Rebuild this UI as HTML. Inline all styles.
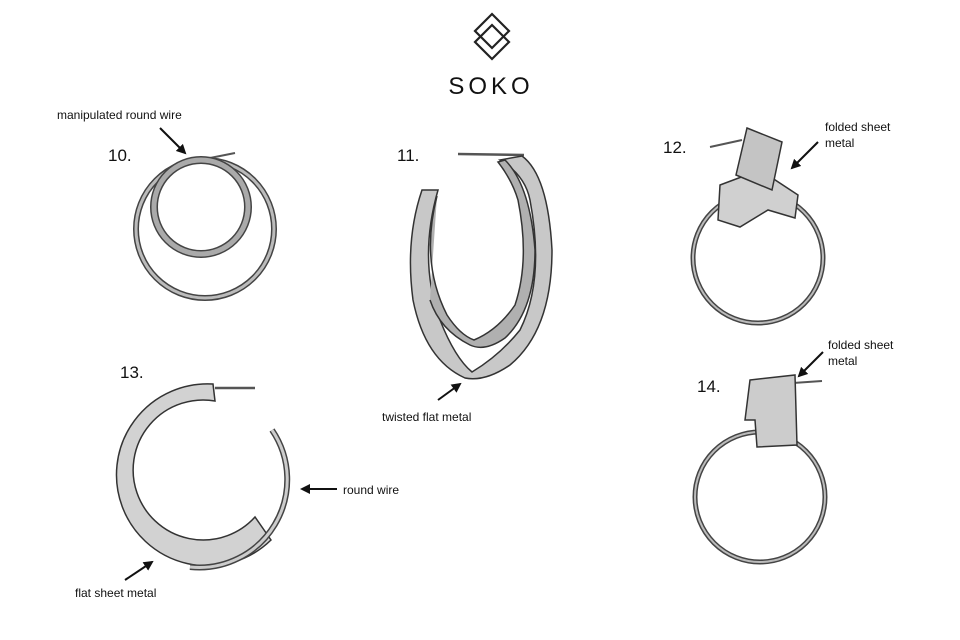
<!DOCTYPE html>
<html><head><meta charset="utf-8"><style>
html,body{margin:0;padding:0;background:#fff;}
svg{display:block;}
text{font-family:"Liberation Sans",sans-serif;fill:#111;}
</style></head><body>
<svg width="960" height="640" viewBox="0 0 960 640" xmlns="http://www.w3.org/2000/svg">
<defs>
<marker id="ah" markerWidth="10" markerHeight="10" refX="8" refY="5" orient="auto" markerUnits="userSpaceOnUse">
<path d="M0,0 L10,5 L0,10 z" fill="#111"/></marker>
</defs>
<!-- logo -->
<g fill="none" stroke="#222" stroke-width="2.2">
<path d="M492,14 L509,31 L492,48 L475,31 z"/>
<path d="M492,25 L509,42 L492,59 L475,42 z"/>
</g>
<text x="491" y="94" font-size="24" text-anchor="middle" letter-spacing="4">SOKO</text>

<!-- 10 -->
<text x="57" y="119" font-size="12">manipulated round wire</text>
<text x="108" y="161" font-size="17">10.</text>
<line x1="160" y1="128" x2="185" y2="153" stroke="#111" stroke-width="2" marker-end="url(#ah)"/>
<line x1="210" y1="158" x2="235" y2="153" stroke="#555" stroke-width="2"/>
<circle cx="205" cy="229" r="69" fill="none" stroke="#444" stroke-width="6"/>
<circle cx="205" cy="229" r="69" fill="none" stroke="#bbb" stroke-width="3"/>
<circle cx="201" cy="207" r="47" fill="none" stroke="#444" stroke-width="8"/>
<circle cx="201" cy="207" r="47" fill="none" stroke="#aaa" stroke-width="5"/>

<!-- 11 -->
<text x="397" y="161" font-size="17">11.</text>
<line x1="458" y1="154" x2="524" y2="155" stroke="#555" stroke-width="2.5"/>
<path d="M422,190 L438,190 Q418,260 440,320 Q455,358 472,372 Q500,355 520,330 Q545,280 530,200 Q525,175 500,160 L522,156 Q548,175 552,250 Q552,330 510,365 Q485,382 465,378 Q425,360 413,300 Q405,240 422,190 z" fill="#c8c8c8" stroke="#333" stroke-width="1.5"/>
<path d="M437,196 Q420,262 447,315 Q460,335 474,340 Q498,330 515,305 Q530,260 518,200 Q512,180 498,162 L505,160 Q530,185 535,250 Q535,310 505,338 Q485,352 470,345 Q440,330 430,300" fill="#b0b0b0" stroke="#333" stroke-width="1.5"/>
<text x="382" y="421" font-size="12">twisted flat metal</text>
<line x1="438" y1="400" x2="460" y2="384" stroke="#111" stroke-width="2" marker-end="url(#ah)"/>

<!-- 12 -->
<text x="663" y="153" font-size="17">12.</text>
<circle cx="758" cy="258" r="65" fill="none" stroke="#444" stroke-width="5"/>
<circle cx="758" cy="258" r="65" fill="none" stroke="#bbb" stroke-width="2"/>
<line x1="710" y1="147" x2="742" y2="140" stroke="#555" stroke-width="2"/>
<path d="M720,185 L760,170 L798,195 L795,218 L768,210 L740,227 L718,220 z" fill="#d0d0d0" stroke="#333" stroke-width="1.5"/>
<path d="M747,128 L782,142 L772,190 L736,175 z" fill="#c4c4c4" stroke="#333" stroke-width="1.5"/>
<text x="825" y="131" font-size="12">folded sheet</text>
<text x="825" y="147" font-size="12">metal</text>
<line x1="818" y1="142" x2="792" y2="168" stroke="#111" stroke-width="2" marker-end="url(#ah)"/>

<!-- 13 -->
<text x="120" y="378" font-size="17">13.</text>
<line x1="215" y1="388" x2="255" y2="388" stroke="#555" stroke-width="2.5"/>
<path d="M213,384 A91,91 0 1 0 271,540 L255,517 A70,70 0 1 1 215,401 z" fill="#d2d2d2" stroke="#333" stroke-width="1.5"/>
<path d="M272,430 A88,88 0 0 1 190,567" fill="none" stroke="#444" stroke-width="6"/>
<path d="M272,430 A88,88 0 0 1 190,567" fill="none" stroke="#ccc" stroke-width="3"/>
<text x="343" y="494" font-size="12">round wire</text>
<line x1="337" y1="489" x2="302" y2="489" stroke="#111" stroke-width="2" marker-end="url(#ah)"/>
<text x="75" y="597" font-size="12">flat sheet metal</text>
<line x1="125" y1="580" x2="152" y2="562" stroke="#111" stroke-width="2" marker-end="url(#ah)"/>

<!-- 14 -->
<text x="697" y="392" font-size="17">14.</text>
<circle cx="760" cy="497" r="65" fill="none" stroke="#444" stroke-width="5"/>
<circle cx="760" cy="497" r="65" fill="none" stroke="#bbb" stroke-width="2"/>
<line x1="793" y1="383" x2="822" y2="381" stroke="#555" stroke-width="2"/>
<path d="M750,380 L795,375 L797,445 L757,447 L755,420 L745,420 z" fill="#cccccc" stroke="#333" stroke-width="1.5"/>
<text x="828" y="349" font-size="12">folded sheet</text>
<text x="828" y="365" font-size="12">metal</text>
<line x1="823" y1="352" x2="799" y2="376" stroke="#111" stroke-width="2" marker-end="url(#ah)"/>
</svg>
</body></html>
